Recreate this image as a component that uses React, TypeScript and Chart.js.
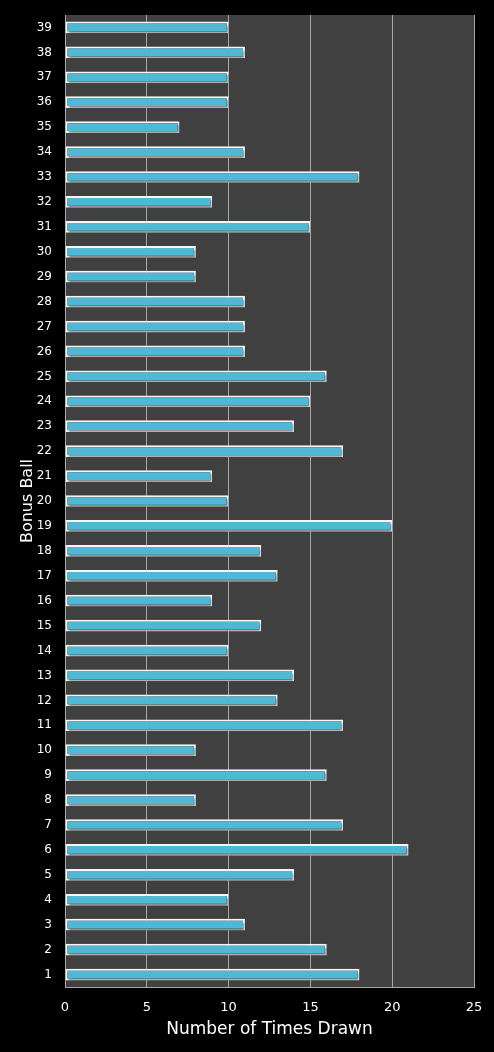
import React, { useEffect, useRef } from 'react';
import { Chart, registerables } from 'chart.js';

Chart.register(...registerables);

const balls = [
  '1', '2', '3', '4', '5', '6', '7', '8', '9', '10',
  '11', '12', '13', '14', '15', '16', '17', '18', '19', '20',
  '21', '22', '23', '24', '25', '26', '27', '28', '29', '30',
  '31', '32', '33', '34', '35', '36', '37', '38', '39',
];
const timesDrawn = [
  18, 16, 11, 10, 14, 21, 17, 8, 16, 8,
  17, 13, 14, 10, 12, 9, 13, 12, 20, 10,
  9, 17, 14, 15, 16, 11, 11, 11, 8, 8,
  15, 9, 18, 11, 7, 10, 10, 11, 10,
];
const xTicks = [0, 5, 10, 15, 20, 25];

const FONT = '"DejaVu Sans", Verdana, sans-serif';

// fond gris de la zone de tracé + ombre des barres
const plotBg = {
  id: 'plotBg',
  beforeDraw(chart: any) {
    const { ctx, chartArea } = chart;
    ctx.save();
    ctx.fillStyle = '#404040';
    ctx.fillRect(chartArea.left, chartArea.top, chartArea.right - chartArea.left, chartArea.bottom - chartArea.top);
    ctx.restore();
  },
  beforeDatasetsDraw(chart: any) {
    const ctx = chart.ctx;
    ctx.save();
    ctx.shadowColor = 'rgba(0,0,0,0.45)';
    ctx.shadowBlur = 2;
    ctx.shadowOffsetX = 1;
    ctx.shadowOffsetY = 2;
  },
  afterDatasetsDraw(chart: any) {
    chart.ctx.restore();
  },
};

export default function App() {
  const chartRef = useRef<HTMLCanvasElement>(null);
  const chartInstance = useRef<Chart | null>(null);

  useEffect(() => {
    document.body.style.margin = '0';
    document.body.style.background = '#000';
    if (!chartRef.current) return;
    if (chartInstance.current) chartInstance.current.destroy();
    const ctx = chartRef.current.getContext('2d');
    if (!ctx) return;

    chartInstance.current = new Chart(ctx, {
      type: 'bar',
      data: {
        labels: balls,
        datasets: [
          {
            label: 'Number of Times Drawn',
            data: timesDrawn,
            backgroundColor: '#4fb8d4',
            borderColor: '#f6f6f6',
            borderWidth: 2,
            borderSkipped: false,
            barPercentage: 0.47,
            categoryPercentage: 1,
          },
        ],
      },
      options: {
        indexAxis: 'y',
        animation: false,
        responsive: false,
        maintainAspectRatio: false,
        layout: { padding: { top: 15, right: 20, left: 18, bottom: 12 } },
        plugins: {
          legend: { display: false },
          tooltip: { enabled: false },
        },
        scales: {
          x: {
            min: 0,
            max: 25,
            afterBuildTicks: (scale: any) => {
              scale.ticks = xTicks.map((v) => ({ value: v }));
            },
            afterFit: (scale: any) => {
              scale.height = 53;
              scale.paddingLeft = 0;
              scale.paddingRight = 0;
            },
            grid: { color: '#a8a8a8', lineWidth: 1, drawTicks: false },
            border: { color: '#a8a8a8' },
            ticks: { color: '#ffffff', font: { family: FONT, size: 13 }, padding: 13 },
            title: {
              display: true,
              text: 'Number of Times Drawn',
              color: '#ffffff',
              font: { family: FONT, size: 17 },
              padding: { top: 0, bottom: 0 },
            },
          },
          y: {
            reverse: true,
            afterFit: (scale: any) => {
              scale.width = 47;
              scale.paddingTop = 0;
              scale.paddingBottom = 0;
            },
            grid: { display: false, drawTicks: false },
            border: { color: '#a8a8a8' },
            ticks: { color: '#ffffff', font: { family: FONT, size: 12 }, padding: 13, autoSkip: false },
            title: {
              display: true,
              text: 'Bonus Ball',
              color: '#ffffff',
              font: { family: FONT, size: 16 },
              padding: { top: 0, bottom: 0 },
            },
          },
        },
      },
      plugins: [plotBg],
    } as any);

    return () => {
      if (chartInstance.current) {
        chartInstance.current.destroy();
        chartInstance.current = null;
      }
    };
  }, []);

  return (
    <div style={{ width: 494, height: 1052, background: '#000' }}>
      <canvas ref={chartRef} width={494} height={1052} style={{ display: 'block' }} />
    </div>
  );
}
